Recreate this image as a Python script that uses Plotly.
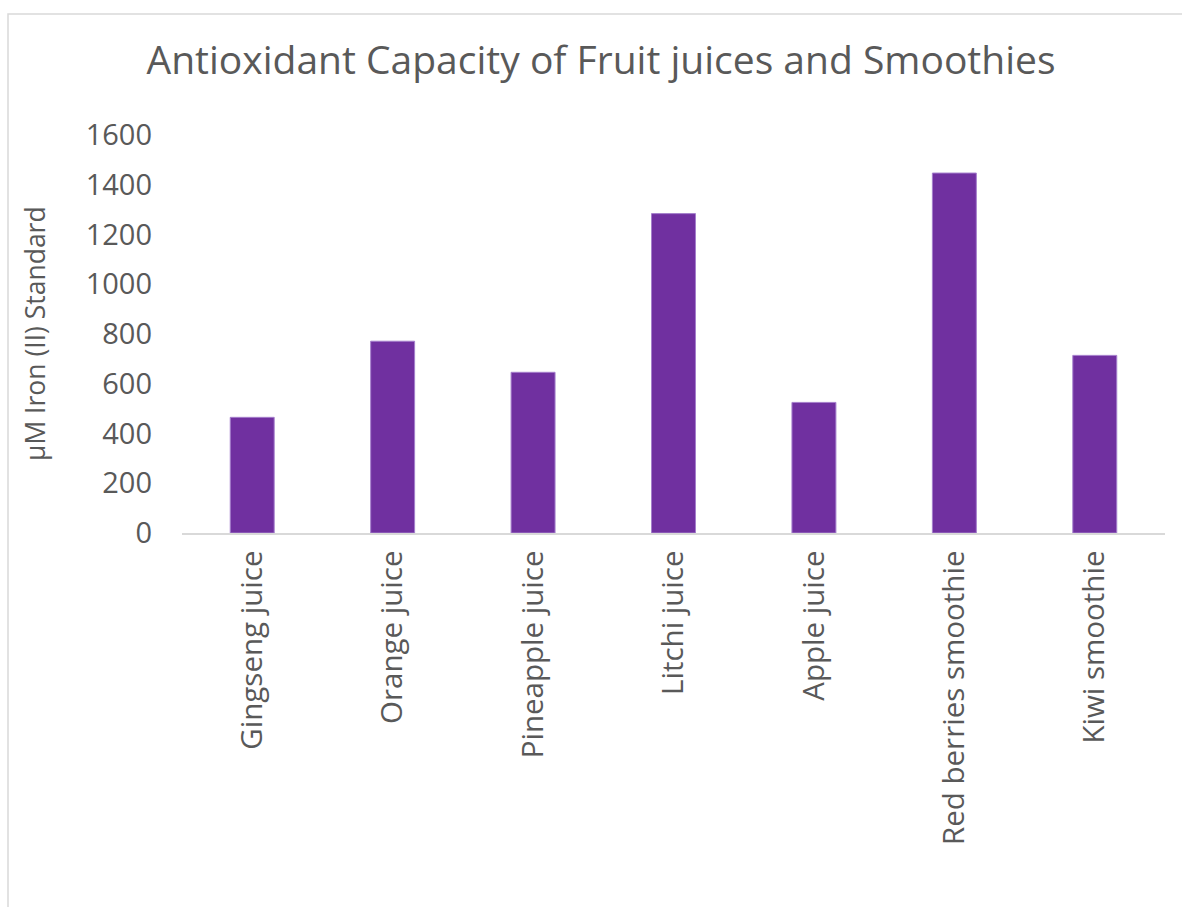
import plotly.graph_objects as go

# Antioxidant capacity (FRAP, µM Fe(II) equivalents) per drink
drinks = [
    "Gingseng juice",
    "Orange juice",
    "Pineapple juice",
    "Litchi juice",
    "Apple juice",
    "Red berries smoothie",
    "Kiwi smoothie",
]
capacity = [465, 771, 646, 1284, 525, 1447, 714]
y_ticks = [0, 200, 400, 600, 800, 1000, 1200, 1400, 1600]

TEXT = "#595959"
BAR = "#7030A0"
GRID = "#d9d9d9"
FONT = "'Open Sans', Lato, sans-serif"

W, H = 1182, 907
L, R, T, B = 182, 17, 135, 374
pw, ph = W - L - R, H - T - B

fig = go.Figure(
    go.Bar(
        x=drinks,
        y=capacity,
        marker=dict(color=BAR, line=dict(color="#a57fcc", width=1)),
        hoverinfo="x+y",
    )
)

fig.update_layout(
    width=W,
    height=H,
    margin=dict(l=L, r=R, t=T, b=B, autoexpand=False),
    paper_bgcolor="white",
    plot_bgcolor="white",
    bargap=0.687,
    showlegend=False,
    font=dict(family=FONT, color=TEXT),
    title=dict(
        text="Antioxidant Capacity of Fruit juices and Smoothies",
        font=dict(size=39, color=TEXT, family=FONT),
        x=601 / W,
        xref="container",
        xanchor="center",
        y=1 - 60 / H,
        yref="container",
        yanchor="middle",
    ),
)

fig.update_xaxes(
    tickangle=-90,
    tickfont=dict(size=29.5, color=TEXT),
    showline=True,
    linecolor=GRID,
    linewidth=1.5,
    ticks="",
    ticklabelstandoff=4,
    showgrid=False,
)

fig.update_yaxes(
    range=[0, 1600],
    tickvals=y_ticks,
    tickfont=dict(size=29, color=TEXT),
    showline=False,
    showgrid=False,
    zeroline=False,
    ticks="",
    ticklabelstandoff=29,
)

# y-axis title
fig.add_annotation(
    text="µM Iron (II) Standard",
    textangle=-90,
    x=(35 - L) / pw,
    y=0.5,
    xref="paper",
    yref="paper",
    showarrow=False,
    font=dict(size=26.5, color=TEXT, family=FONT),
    xanchor="center",
    yanchor="middle",
)

# chart-area border
fig.add_shape(
    type="rect",
    xref="paper",
    yref="paper",
    x0=(8 - L) / pw,
    x1=(W + 10 - L) / pw,
    y0=(H - B - (H + 10)) / ph,
    y1=(H - B - 14) / ph,
    line=dict(color=GRID, width=1.5),
    fillcolor="rgba(0,0,0,0)",
    layer="below",
)

fig.write_html("out.html")
